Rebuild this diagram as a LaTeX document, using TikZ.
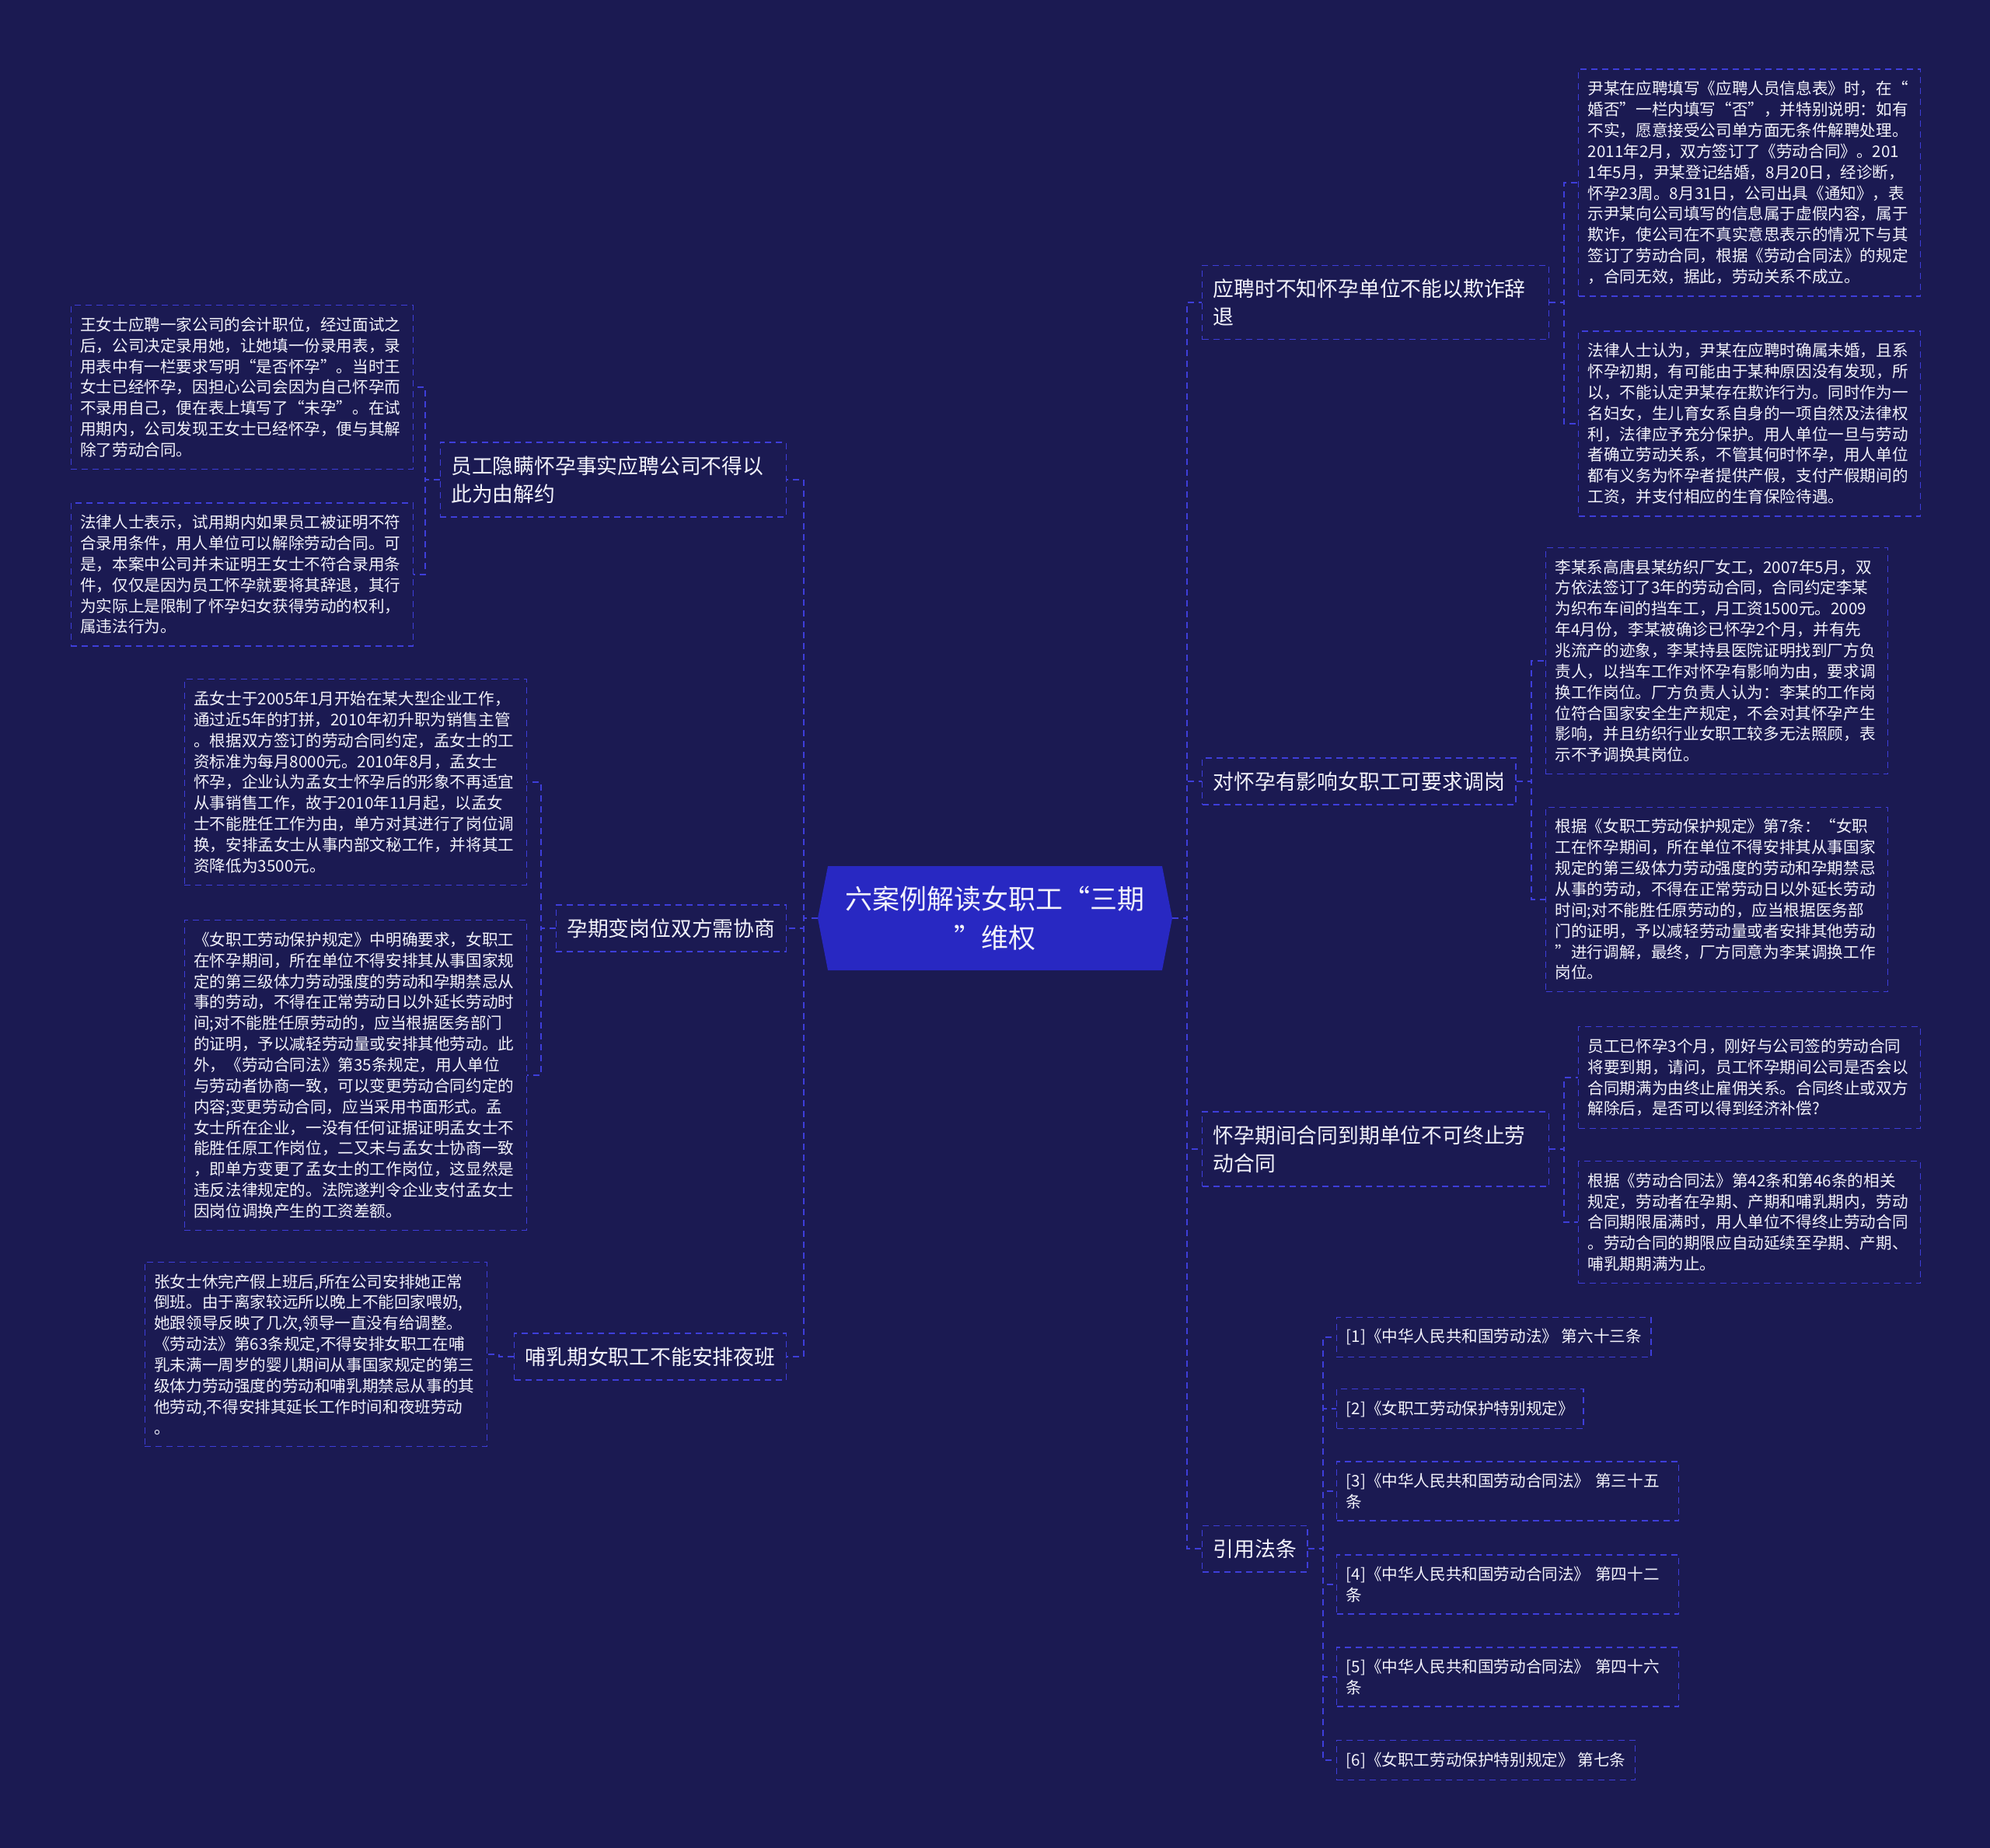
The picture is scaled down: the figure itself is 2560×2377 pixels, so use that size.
\documentclass[tikz,border=0pt]{standalone}
\usepackage{fontspec}
\setmainfont{Noto Sans CJK SC}
\usepackage{xcolor}
\usepackage{tikz}
\usetikzlibrary{positioning, shapes.symbols}
\definecolor{bgnavy}{RGB}{27,26,82}
\definecolor{linkblue}{RGB}{62,62,218}
\definecolor{topicblue}{RGB}{40,40,194}
\definecolor{paper}{RGB}{242,242,250}

\begin{document}
\begin{tikzpicture}[
    x=0.5pt, y=-0.5pt,
    every node/.style={text=paper, align=left},
    topic/.style={signal, signal to=west and east, signal pointer angle=158, fill=topicblue, minimum width=228pt, minimum height=67pt, inner sep=0pt, align=center, font=\fontsize{17.5pt}{25pt}\selectfont},
    branch/.style={rectangle, draw=linkblue, dash pattern=on 4pt off 3pt, line width=0.7pt, fill=bgnavy, inner xsep=7pt, inner ysep=8.7pt, font=\fontsize{13.4pt}{18pt}\selectfont},
    leaf/.style={rectangle, draw=linkblue, dash pattern=on 4pt off 3pt, line width=0.7pt, fill=bgnavy, inner xsep=6pt, inner ysep=7.6pt, text width=208pt, font=\fontsize{10.3pt}{13.43pt}\selectfont},
    cite/.style={rectangle, draw=linkblue, dash pattern=on 4pt off 3pt, line width=0.7pt, fill=bgnavy, inner xsep=6pt, inner ysep=7.6pt, font=\fontsize{10.3pt}{13.43pt}\selectfont},
    link/.style={draw=linkblue, dash pattern=on 4pt off 3pt, line width=1pt}
]
    \useasboundingbox (0,0) rectangle (2560,2377);
    \fill[bgnavy] (0,0) rectangle (2560,2377);

    \node[topic] (topic) at (1280,1181) {六案例解读女职工“三期\\”维权};

    \node[branch, anchor=west, text width=209pt] (hire) at (1546,389) {应聘时不知怀孕单位不能以欺诈辞\\退};
    \node[branch, anchor=west] (adjust) at (1546,1005) {对怀孕有影响女职工可要求调岗};
    \node[branch, anchor=west, text width=209pt] (expire) at (1546,1478) {怀孕期间合同到期单位不可终止劳\\动合同};
    \node[branch, anchor=west] (laws) at (1546,1992) {引用法条};

    \node[branch, anchor=east, text width=208.5pt] (conceal) at (1012,617) {员工隐瞒怀孕事实应聘公司不得以\\此为由解约};
    \node[branch, anchor=east] (change) at (1012,1194) {孕期变岗位双方需协商};
    \node[branch, anchor=east] (nurse) at (1012,1745) {哺乳期女职工不能安排夜班};

    \node[leaf, anchor=west] (yin1) at (2030,235) {尹某在应聘填写《应聘人员信息表》时，在“\\婚否”一栏内填写“否”，并特别说明：如有\\不实，愿意接受公司单方面无条件解聘处理。\\2011年2月，双方签订了《劳动合同》。201\\1年5月，尹某登记结婚，8月20日，经诊断，\\怀孕23周。8月31日，公司出具《通知》，表\\示尹某向公司填写的信息属于虚假内容，属于\\欺诈，使公司在不真实意思表示的情况下与其\\签订了劳动合同，根据《劳动合同法》的规定\\，合同无效，据此，劳动关系不成立。};
    \node[leaf, anchor=west] (yin2) at (2030,545) {法律人士认为，尹某在应聘时确属未婚，且系\\怀孕初期，有可能由于某种原因没有发现，所\\以，不能认定尹某存在欺诈行为。同时作为一\\名妇女，生儿育女系自身的一项自然及法律权\\利，法律应予充分保护。用人单位一旦与劳动\\者确立劳动关系，不管其何时怀孕，用人单位\\都有义务为怀孕者提供产假，支付产假期间的\\工资，并支付相应的生育保险待遇。};
    \node[leaf, anchor=west] (li1) at (1988,850) {李某系高唐县某纺织厂女工，2007年5月，双\\方依法签订了3年的劳动合同，合同约定李某\\为织布车间的挡车工，月工资1500元。2009\\年4月份，李某被确诊已怀孕2个月，并有先\\兆流产的迹象，李某持县医院证明找到厂方负\\责人，以挡车工作对怀孕有影响为由，要求调\\换工作岗位。厂方负责人认为：李某的工作岗\\位符合国家安全生产规定，不会对其怀孕产生\\影响，并且纺织行业女职工较多无法照顾，表\\示不予调换其岗位。};
    \node[leaf, anchor=west] (li2) at (1988,1157) {根据《女职工劳动保护规定》第7条：“女职\\工在怀孕期间，所在单位不得安排其从事国家\\规定的第三级体力劳动强度的劳动和孕期禁忌\\从事的劳动，不得在正常劳动日以外延长劳动\\时间;对不能胜任原劳动的，应当根据医务部\\门的证明，予以减轻劳动量或者安排其他劳动\\”进行调解，最终，厂方同意为李某调换工作\\岗位。};
    \node[leaf, anchor=west] (ask) at (2030,1386) {员工已怀孕3个月，刚好与公司签的劳动合同\\将要到期，请问，员工怀孕期间公司是否会以\\合同期满为由终止雇佣关系。合同终止或双方\\解除后，是否可以得到经济补偿?};
    \node[leaf, anchor=west] (answer) at (2030,1572) {根据《劳动合同法》第42条和第46条的相关\\规定，劳动者在孕期、产期和哺乳期内，劳动\\合同期限届满时，用人单位不得终止劳动合同\\。劳动合同的期限应自动延续至孕期、产期、\\哺乳期期满为止。};

    \node[cite, anchor=west] (law1) at (1719,1720) {[1]《中华人民共和国劳动法》 第六十三条};
    \node[cite, anchor=west] (law2) at (1719,1812) {[2]《女职工劳动保护特别规定》};
    \node[cite, anchor=west, text width=208pt] (law3) at (1719,1918) {[3]《中华人民共和国劳动合同法》 第三十五\\条};
    \node[cite, anchor=west, text width=208pt] (law4) at (1719,2038) {[4]《中华人民共和国劳动合同法》 第四十二\\条};
    \node[cite, anchor=west, text width=208pt] (law5) at (1719,2157) {[5]《中华人民共和国劳动合同法》 第四十六\\条};
    \node[cite, anchor=west] (law6) at (1719,2264) {[6]《女职工劳动保护特别规定》 第七条};

    \node[leaf, anchor=east] (wang1) at (532,498) {王女士应聘一家公司的会计职位，经过面试之\\后，公司决定录用她，让她填一份录用表，录\\用表中有一栏要求写明“是否怀孕”。当时王\\女士已经怀孕，因担心公司会因为自己怀孕而\\不录用自己，便在表上填写了“未孕”。在试\\用期内，公司发现王女士已经怀孕，便与其解\\除了劳动合同。};
    \node[leaf, anchor=east] (wang2) at (532,739) {法律人士表示，试用期内如果员工被证明不符\\合录用条件，用人单位可以解除劳动合同。可\\是，本案中公司并未证明王女士不符合录用条\\件，仅仅是因为员工怀孕就要将其辞退，其行\\为实际上是限制了怀孕妇女获得劳动的权利，\\属违法行为。};
    \node[leaf, anchor=east] (meng1) at (678,1006) {孟女士于2005年1月开始在某大型企业工作，\\通过近5年的打拼，2010年初升职为销售主管\\。根据双方签订的劳动合同约定，孟女士的工\\资标准为每月8000元。2010年8月，孟女士\\怀孕，企业认为孟女士怀孕后的形象不再适宜\\从事销售工作，故于2010年11月起，以孟女\\士不能胜任工作为由，单方对其进行了岗位调\\换，安排孟女士从事内部文秘工作，并将其工\\资降低为3500元。};
    \node[leaf, anchor=east] (meng2) at (678,1383) {《女职工劳动保护规定》中明确要求，女职工\\在怀孕期间，所在单位不得安排其从事国家规\\定的第三级体力劳动强度的劳动和孕期禁忌从\\事的劳动，不得在正常劳动日以外延长劳动时\\间;对不能胜任原劳动的，应当根据医务部门\\的证明，予以减轻劳动量或安排其他劳动。此\\外，《劳动合同法》第35条规定，用人单位\\与劳动者协商一致，可以变更劳动合同约定的\\内容;变更劳动合同，应当采用书面形式。孟\\女士所在企业，一没有任何证据证明孟女士不\\能胜任原工作岗位，二又未与孟女士协商一致\\，即单方变更了孟女士的工作岗位，这显然是\\违反法律规定的。法院遂判令企业支付孟女士\\因岗位调换产生的工资差额。};
    \node[leaf, anchor=east] (zhang) at (627,1742) {张女士休完产假上班后,所在公司安排她正常\\倒班。由于离家较远所以晚上不能回家喂奶,\\她跟领导反映了几次,领导一直没有给调整。\\《劳动法》第63条规定,不得安排女职工在哺\\乳未满一周岁的婴儿期间从事国家规定的第三\\级体力劳动强度的劳动和哺乳期禁忌从事的其\\他劳动,不得安排其延长工作时间和夜班劳动\\。};

    \draw[link] (topic.east) -- ++(19,0) |- (hire.west);
    \draw[link] (topic.east) -- ++(19,0) |- (adjust.west);
    \draw[link] (topic.east) -- ++(19,0) |- (expire.west);
    \draw[link] (topic.east) -- ++(19,0) |- (laws.west);
    \draw[link] (topic.west) -- ++(-18,0) |- (conceal.east);
    \draw[link] (topic.west) -- ++(-18,0) |- (change.east);
    \draw[link] (topic.west) -- ++(-18,0) |- (nurse.east);

    \draw[link] (hire.east) -- ++(19,0) |- (yin1.west);
    \draw[link] (hire.east) -- ++(19,0) |- (yin2.west);
    \draw[link] (adjust.east) -- ++(19,0) |- (li1.west);
    \draw[link] (adjust.east) -- ++(19,0) |- (li2.west);
    \draw[link] (expire.east) -- ++(19,0) |- (ask.west);
    \draw[link] (expire.east) -- ++(19,0) |- (answer.west);
    \draw[link] (laws.east) -- ++(19,0) |- (law1.west);
    \draw[link] (laws.east) -- ++(19,0) |- (law2.west);
    \draw[link] (laws.east) -- ++(19,0) |- (law3.west);
    \draw[link] (laws.east) -- ++(19,0) |- (law4.west);
    \draw[link] (laws.east) -- ++(19,0) |- (law5.west);
    \draw[link] (laws.east) -- ++(19,0) |- (law6.west);

    \draw[link] (conceal.west) -- ++(-19,0) |- (wang1.east);
    \draw[link] (conceal.west) -- ++(-19,0) |- (wang2.east);
    \draw[link] (change.west) -- ++(-19,0) |- (meng1.east);
    \draw[link] (change.west) -- ++(-19,0) |- (meng2.east);
    \draw[link] (nurse.west) -- ++(-19,0) |- (zhang.east);
\end{tikzpicture}
\end{document}
